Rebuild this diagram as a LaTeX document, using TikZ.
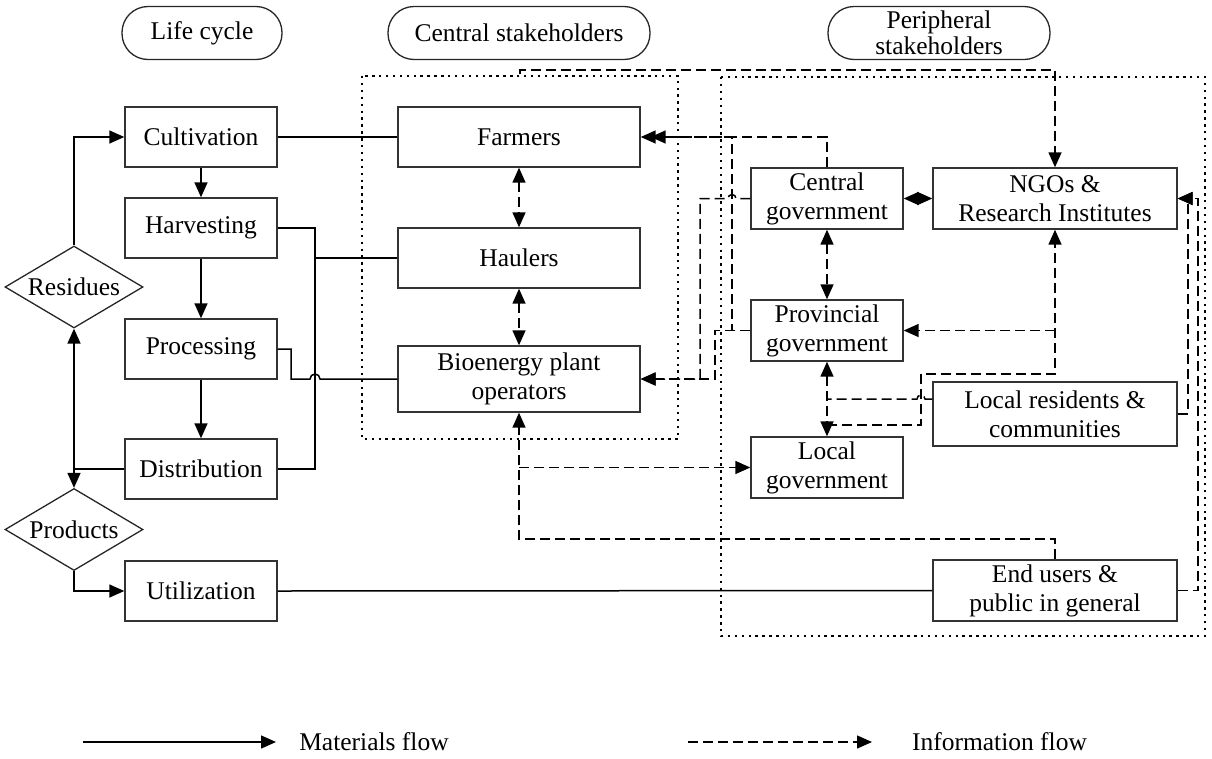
\documentclass[tikz,border=0pt]{standalone}
\usepackage{fontspec}
\setmainfont{Liberation Serif}
\usetikzlibrary{arrows.meta,shapes.geometric}
\begin{document}
\begin{tikzpicture}[x=1pt,y=-1pt,
  txt/.style={font=\fontsize{25.5}{29}\selectfont},
  box/.style={txt,draw=black!80,line width=1.4pt,inner sep=0pt,align=center},
  pill/.style={txt,draw=black!85,line width=1.3pt,rounded corners=26pt,inner sep=0pt,align=center,minimum height=53pt},
  dia/.style={txt,draw=black!85,line width=1.3pt,shape=diamond,inner sep=0pt,shape aspect=1.68,minimum width=138pt,minimum height=82pt},
  mat/.style={line width=1.5pt,draw=black},
  info/.style={line width=1.5pt,draw=black,dash pattern=on 10pt off 5pt},
  zone/.style={line width=2.4pt,dash pattern=on 2.4pt off 4.5pt},
  >={Triangle[length=15pt,width=13pt]}]
\useasboundingbox (0,0) rectangle (1212,758);

% group frames
\draw[zone] (362,76) rectangle (678,439);
\draw[zone] (721,77) rectangle (1205,636);

% column headings
\node[pill,minimum width=160pt] (lc) at (202,33) {Life cycle};
\node[pill,minimum width=262pt] (cs) at (519,33) {Central stakeholders};
\node[pill,minimum width=222pt] (ps) at (939,33) {Peripheral\\[-3pt]stakeholders};

% life cycle stages
\node[box,minimum width=152pt,minimum height=60pt] (cult) at (201,137) {Cultivation};
\node[box,minimum width=152pt,minimum height=60pt] (harv) at (201,228) {Harvesting};
\node[box,minimum width=152pt,minimum height=60pt] (proc) at (201,349) {Processing};
\node[box,minimum width=152pt,minimum height=60pt] (dist) at (201,469) {Distribution};
\node[box,minimum width=152pt,minimum height=60pt] (util) at (201,591) {Utilization};
\node[dia] (res) at (74,287) {Residues};
\node[dia] (prod) at (74,529.5) {Products};

% central stakeholders
\node[box,minimum width=242pt,minimum height=60pt] (farm) at (519,137) {Farmers};
\node[box,minimum width=242pt,minimum height=60pt] (haul) at (519,258) {Haulers};
\node[box,minimum width=242pt,minimum height=66pt] (bio) at (519,379) {Bioenergy plant\\operators};

% peripheral stakeholders
\node[box,minimum width=152pt,minimum height=61pt] (cgov) at (827,198.5) {Central\\government};
\node[box,minimum width=244pt,minimum height=61pt] (ngo) at (1055,198.5) {NGOs \&\\Research Institutes};
\node[box,minimum width=152pt,minimum height=61pt] (pgov) at (827,330.5) {Provincial\\government};
\node[box,minimum width=244pt,minimum height=64pt] (lres) at (1055,414) {Local residents \&\\communities};
\node[box,minimum width=152pt,minimum height=61pt] (lgov) at (827,467.5) {Local\\government};
\node[box,minimum width=244pt,minimum height=61pt] (endu) at (1055,590.5) {End users \&\\public in general};

% materials flow along the life cycle
\draw[mat,->] (cult) -- (harv);
\draw[mat,->] (harv) -- (proc);
\draw[mat,->] (proc) -- (dist);
\draw[mat,->] (res.north) |- (cult.west);
\draw[mat,->] (dist.west) -| (res.south);
\draw[mat,->] (dist.west) -| (prod.north);
\draw[mat,->] (prod.south) |- (util.west);

% materials links to stakeholders
\draw[mat] (cult.east) -- (farm.west);
\draw[mat] (harv.east) -- (315,228) -- (315,258) -- (haul.west);
\draw[mat] (dist.east) -- (315,469) -- (315,258);
\draw[mat] (proc.east) -- (291,349) -- (291,379) -- (310,379)
  arc[start angle=180,end angle=0,radius=5pt] -- (bio.west);
\draw[mat] (util.east) -- (endu.west);

% information flow among central stakeholders
\draw[info,<->] (farm.south) -- (haul.north);
\draw[info,<->] (haul.south) -- (bio.north);

% information flow among peripheral stakeholders
\draw[info,<->] (cgov.east) -- (ngo.west);
\draw[info,<->] (cgov.south) -- (pgov.north);
\draw[info,<->] (pgov.south) -- (lgov.north);

\coordinate (tstub) at (520,74);
\draw[info,->] (tstub) -- (520,70) -- (1055,70) -- (ngo.north);

\draw[info,->] (cgov.north) -- (827,137) -- (farm.east);
\draw[info,->,shorten >=10pt] (pgov.west) -- (732,330.5) -- (732,137) -- (farm.east);
\draw[info,->] (cgov.west) -- (736,198.5)
  arc[start angle=0,end angle=180,radius=4pt] -- (700,198.5) -- (700,379) -- (bio.east);
\draw[info,->] (pgov.west) -- (715,330.5) -- (715,379) -- (bio.east);

\coordinate (jl) at (827,425);
\draw[info,->] (jl) -- (921,425) -- (921,374) -- (1055,374) -- (ngo.south);
\coordinate (jp) at (1055,330.5);
\draw[info,->] (jp) -- (pgov.east);
\coordinate (jr) at (827,399);
\draw[info] ([yshift=15pt]lres.west) -- (925,399)
  arc[start angle=0,end angle=180,radius=4pt] -- (jr);

\draw[info,->] (lres.east) -- (1188,414) -- (1188,198.5) -- (ngo.east);
\draw[info,->] (endu.east) -- (1198,590.5) -- (1198,198.5) -- (ngo.east);

\draw[info,->] (endu.north) -- (1055,539) -- (519,539) -- (bio.south);
\coordinate (jb) at (519,467.5);
\draw[info,->] (jb) -- (lgov.west);

% legend
\coordinate (ma) at (83,742);
\coordinate (mb) at (276,742);
\draw[mat,->] (ma) -- (mb);
\node[txt] (ml) at (374,742) {Materials flow};
\coordinate (ia) at (688,742);
\coordinate (ib) at (872,742);
\draw[info,->] (ia) -- (ib);
\node[txt] (il) at (999.5,742) {Information flow};
\end{tikzpicture}
\end{document}
